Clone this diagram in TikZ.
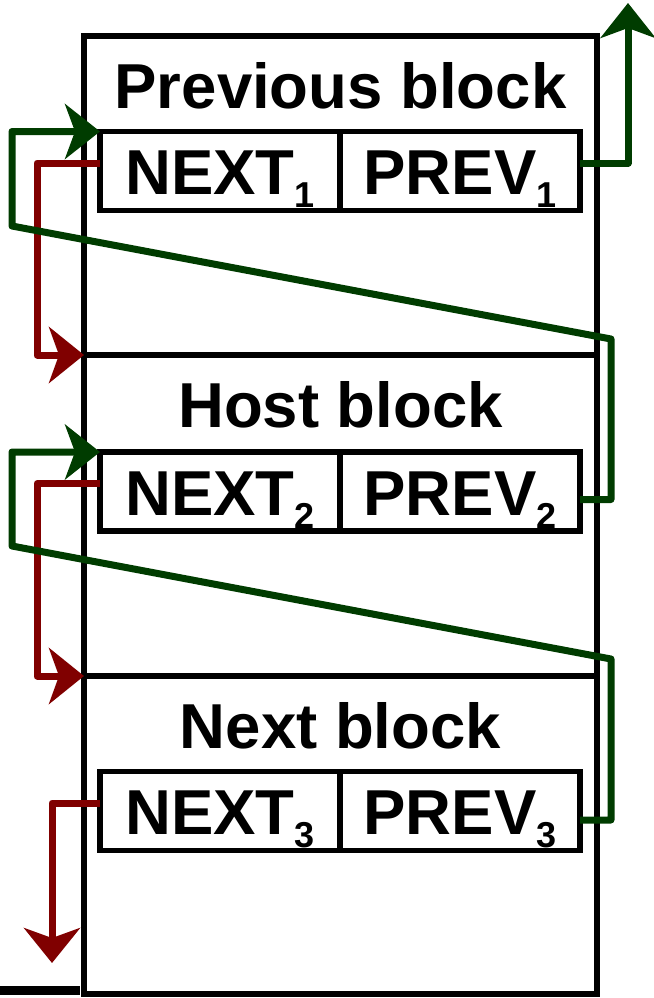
\documentclass[tikz,border=0pt]{standalone}
\usepackage{fontspec}
\setmainfont{Liberation Sans}
\usetikzlibrary{arrows.meta}
\definecolor{lnred}{RGB}{128,0,0}
\definecolor{lngreen}{RGB}{0,60,0}
\newcommand\cellsub[1]{\raisebox{-13pt}{\fontsize{36}{36}\selectfont\bfseries #1}}
\begin{document}
\begin{tikzpicture}[x=1pt,y=-1pt,
  blockbox/.style={draw, line width=5.5pt, minimum width=513pt, inner sep=0pt, outer sep=0pt},
  cellbox/.style={draw, line width=5.5pt, minimum width=240pt, minimum height=79pt, inner sep=0pt, outer sep=0pt,
    text height=47pt, text depth=0pt, font=\fontsize{63.5}{70}\selectfont\bfseries},
  titletext/.style={anchor=base, inner sep=0pt, font=\fontsize{63.5}{70}\selectfont\bfseries},
  redlink/.style={draw=lnred, line width=7pt, line join=round, -{Stealth[length=35pt,width=56pt,inset=10pt]}},
  greenlink/.style={draw=lngreen, line width=7pt, line join=round, -{Stealth[length=35pt,width=55pt,inset=10pt]}}
]
\useasboundingbox (0,0) rectangle (653,998);
\fill[black] (0,986) rectangle (80,995);
% blocks
\node[blockbox, minimum height=319pt] (prevblk) at (340.5,195.5) {};
\node[blockbox, minimum height=321pt] (hostblk) at (340.5,515.5) {};
\node[blockbox, minimum height=318pt] (nextblk) at (340.5,835) {};
% titles
\node[titletext] (t1) at (340.5,108) {Previous block};
\node[titletext] (t2) at (340.5,427) {Host block};
\node[titletext] (t3) at (340.5,748) {Next block};
% cells
\node[cellbox] (n1) at (220,171) {NEXT\cellsub{1}};
\node[cellbox] (p1) at (460,171) {PREV\cellsub{1}};
\node[cellbox] (n2) at (220,491.5) {NEXT\cellsub{2}};
\node[cellbox] (p2) at (460,491.5) {PREV\cellsub{2}};
\node[cellbox] (n3) at (220,811) {NEXT\cellsub{3}};
\node[cellbox] (p3) at (460,811) {PREV\cellsub{3}};
% free ends
\coordinate (gtop) at (628,3);
\coordinate (rbot) at (52,963);
% red links (NEXT)
\draw[redlink] ([yshift=8pt]n1.west) -- (37,163) |- (hostblk.north west);
\draw[redlink] ([yshift=8pt]n2.west) -- (37,483.5) |- (nextblk.north west);
\draw[redlink] ([yshift=8pt]n3.west) -| (rbot);
% green links (PREV)
\draw[greenlink] ([yshift=8pt]p1.east) -| (gtop);
\draw[greenlink] ([yshift=-8pt]p2.east) -| (611,339) -- (12,226) |- (n1.north west);
\draw[greenlink] ([yshift=-9pt]p3.east) -| (611,659) -- (12,546) |- (n2.north west);
\end{tikzpicture}
\end{document}
